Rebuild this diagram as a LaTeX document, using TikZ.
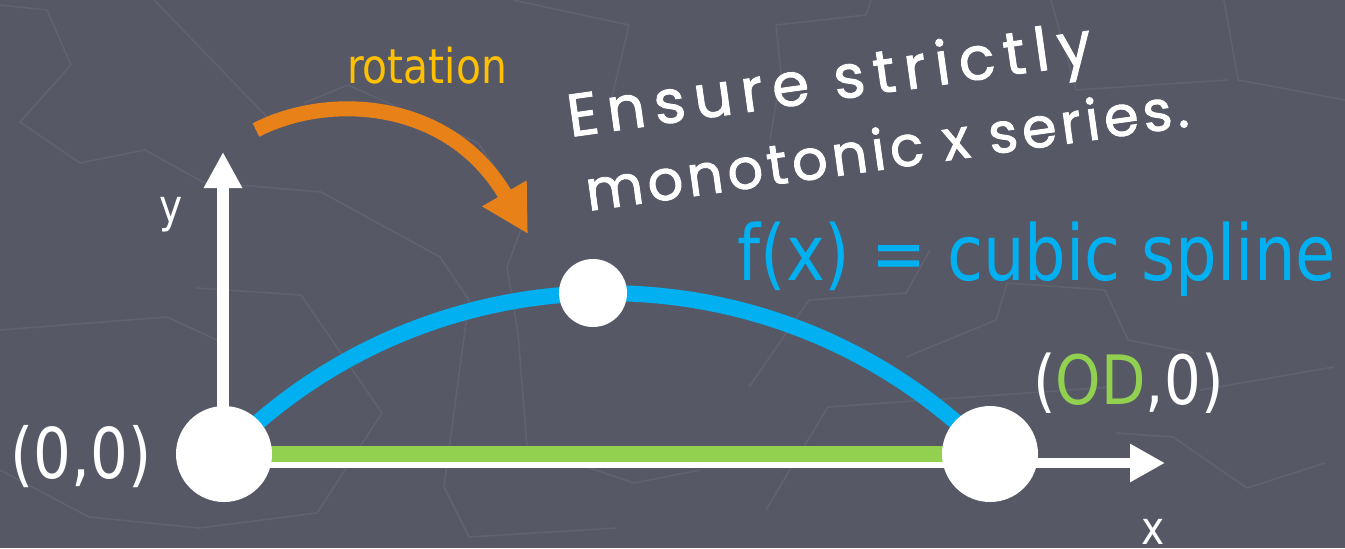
\documentclass[tikz,border=0pt]{standalone}
\usepackage{fontspec}
\usetikzlibrary{arrows.meta}
\setmainfont{DejaVu Sans}
\newfontfamily\labelfont[FakeStretch=0.85]{DejaVu Sans}
\newfontfamily\handfontwide[LetterSpace=15, FakeBold=1.5]{Poppins}
\newfontfamily\handfont[LetterSpace=8, FakeBold=1.5]{Poppins}

\definecolor{bgslate}{RGB}{86,88,102}
\definecolor{mapline}{RGB}{96,98,112}
\definecolor{splineblue}{HTML}{00B0F0}
\definecolor{odgreen}{HTML}{92D050}
\definecolor{rotorange}{RGB}{232,130,24}
\definecolor{rotgold}{HTML}{FFC000}

\tikzset{
  dot/.style={circle, fill=white, draw=none, inner sep=0pt},
  axisline/.style={draw=white, line width=6pt, -{Triangle[length=18pt,width=18pt]}},
  xaxisline/.style={draw=white, line width=5pt, -{Triangle[length=17.5pt,width=18pt]}},
  label/.style={inner sep=0pt, text=white},
  faint/.style={draw=mapline, line width=0.8pt, line join=round},
}

\begin{document}
\begin{tikzpicture}[x=0.5pt, y=-0.5pt]
  % canvas
  \fill[bgslate] (0,0) rectangle (1345,548);
  \useasboundingbox (0,0) rectangle (1345,548);

  % faint map lines in the backdrop
  \draw[faint] (0,5) -- (47,10) -- (71,65) -- (20,122) -- (80,163) -- (145,150) -- (203,182)
               -- (321,192) -- (440,257) -- (469,300) -- (444,487) -- (469,537) -- (616,528);
  \draw[faint] (154,0) -- (268,118);
  \draw[faint] (513,0) -- (629,25) -- (612,97);
  \draw[faint] (304,103) -- (348,85) -- (478,143) -- (527,213) -- (507,267) -- (518,333)
               -- (527,447) -- (634,483) -- (700,470);
  \draw[faint] (0,330) -- (167,317) -- (217,340);
  \draw[faint] (196,288) -- (301,295) -- (382,413) -- (317,513) -- (199,528) -- (89,517) -- (0,470);
  \draw[faint] (776,25) -- (866,15) -- (871,0);
  \draw[faint] (776,25) -- (781,73) -- (770,140);
  \draw[faint] (1228,80) -- (1076,90) -- (1051,0);
  \draw[faint] (1224,0) -- (1238,80) -- (1345,100);
  \draw[faint] (749,387) -- (809,300) -- (906,293) -- (930,250);
  \draw[faint] (906,357) -- (996,320) -- (1007,283) -- (1105,290) -- (1128,340) -- (1194,353);
  \draw[faint] (766,510) -- (782,483) -- (828,407) -- (1112,387);
  \draw[faint] (1116,433) -- (1173,437) -- (1247,488) -- (1325,463);
  \draw[faint] (1334,367) -- (1200,390);

  % named points for axes and the rotation arrow
  \coordinate (ybase) at (223,454);
  \coordinate (ytip)  at (223,152);
  \coordinate (xbase) at (224,463);
  \coordinate (xtip)  at (1165,463);
  \coordinate (rstart) at (256,130);
  \coordinate (rend)   at (528,234);

  % rotation arrow
  \draw[rotorange, line width=7.5pt, -{Triangle[length=23.5pt,width=24pt]}]
    (rstart) .. controls (330,92) and (450,100) .. (rend);

  % axes
  \draw[xaxisline] (xbase) -- (xtip);
  \draw[axisline] (ybase) -- (ytip);

  % end points of the spline
  \coordinate (O0) at (224,454);
  \coordinate (OD0) at (990,454);

  % straight distance and the spline
  \draw[odgreen, line width=8pt] (O0) -- (OD0);
  \draw[splineblue, line width=8pt] (O0) .. controls (434,239.5) and (780,239.5) .. (OD0);

  % knots
  \node[dot, minimum size=48pt] (O) at (O0) {};
  \node[dot, minimum size=34pt] (T) at (593,293) {};
  \node[dot, minimum size=48pt] (R) at (OD0) {};

  % labels
  \node[label, anchor=base, text=rotgold, font=\labelfont\fontsize{24pt}{28pt}\selectfont]
    (rot) at (427,83) {rotation};
  \node[label, anchor=base west, text=splineblue, font=\labelfont\fontsize{38.6pt}{44pt}\selectfont]
    (fx) at (737,280) {f(x) = cubic spline};
  \node[label, anchor=base west, font=\labelfont\fontsize{35pt}{40pt}\selectfont]
    (lo) at (10,478) {(0,0)};
  \node[label, anchor=base west, font=\labelfont\fontsize{34pt}{38pt}\selectfont]
    (ro) at (1033,404) {(\textcolor{odgreen}{OD},0)};
  \node[label, anchor=base, font=\labelfont\fontsize{23pt}{26pt}\selectfont]
    (ylab) at (171,222) {y};
  \node[label, anchor=base, font=\labelfont\fontsize{23pt}{26pt}\selectfont]
    (xlab) at (1153,544) {x};

  % handwritten note
  \node[label, anchor=base west, rotate=8, font=\handfontwide\fontsize{30pt}{34pt}\selectfont]
    (note1) at (570,137) {Ensure strictly};
  \node[label, anchor=base west, rotate=8, font=\handfont\fontsize{28pt}{32pt}\selectfont]
    (note2) at (588,211) {monotonic x series.};
\end{tikzpicture}
\end{document}
